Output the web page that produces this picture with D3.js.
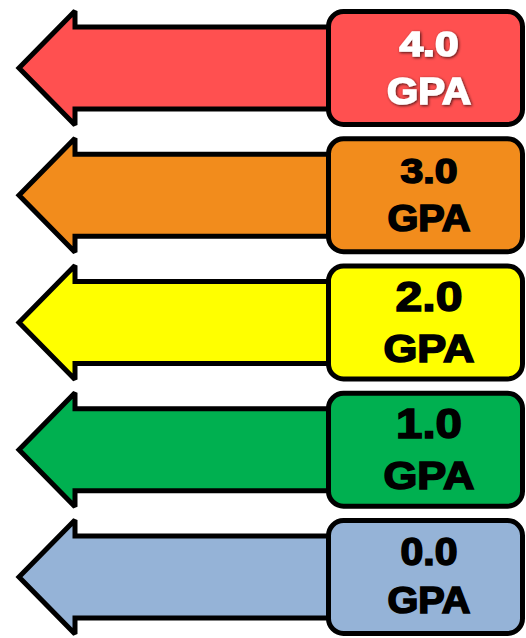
<!DOCTYPE html>
<html>
<head>
<meta charset="utf-8">
<script src="https://cdn.jsdelivr.net/npm/d3@7"></script>
<style>
    html, body { margin: 0; padding: 0; background: #fff; }
    svg { display: block; }
</style>
</head>
<body>
<div id="chart"></div>
<script>
// data
const gpaValues = [4.0, 3.0, 2.0, 1.0, 0.0];
const unitLabel = 'GPA';

// styles per row
const fillColors = ['#ff5050', '#f28c1c', '#ffff00', '#00b050', '#95b3d7'];
const textColors = ['#ffffff', '#000000', '#000000', '#000000', '#000000'];
const numberSizes = [35, 35, 42, 43, 38];
const numberWidths = [59, 57, 67, 66, 57];
const unitSizes = [36, 36, 38, 38, 36];
const unitWidths = [84, 83, 91, 91, 83];

(function() {
    'use strict';

    const width = 526,
        height = 638,
        strokeW = 5;

    const svg = d3.select('#chart').append('svg')
        .attr('width', width)
        .attr('height', height)
        .attr('viewBox', '0 0 ' + width + ' ' + height);

    const defs = svg.append('defs');
    const shadow = defs.append('filter')
        .attr('id', 'shadow')
        .attr('x', '-20%').attr('y', '-20%')
        .attr('width', '140%').attr('height', '140%');
    shadow.append('feDropShadow')
        .attr('dx', 1).attr('dy', 1)
        .attr('stdDeviation', 1.4)
        .attr('flood-color', '#000')
        .attr('flood-opacity', 0.75);

    const y = d3.scalePoint()
        .domain(gpaValues)
        .range([68, 577]);

    // arrow geometry
    const tipX = 19, headX = 75, headH = 57, shaftH = 41, shaftEnd = 345;
    const boxX = 328.5, boxW = 194, boxH = 113;

    const rows = svg.selectAll('.row')
        .data(gpaValues)
        .enter()
        .append('g')
        .attr('class', 'row')
        .attr('transform', (d) => 'translate(0,' + y(d) + ')');

    rows.append('path')
        .attr('d', () => {
            const p = d3.path();
            p.moveTo(tipX, 0);
            p.lineTo(headX, -headH);
            p.lineTo(headX, -shaftH);
            p.lineTo(shaftEnd, -shaftH);
            p.lineTo(shaftEnd, shaftH);
            p.lineTo(headX, shaftH);
            p.lineTo(headX, headH);
            p.closePath();
            return p.toString();
        })
        .attr('fill', (d, i) => fillColors[i])
        .attr('stroke', '#000')
        .attr('stroke-width', strokeW)
        .attr('stroke-linejoin', 'miter')
        .attr('stroke-miterlimit', 2);

    rows.append('rect')
        .attr('x', boxX)
        .attr('y', -boxH / 2)
        .attr('width', boxW)
        .attr('height', boxH)
        .attr('rx', 15)
        .attr('ry', 15)
        .attr('fill', (d, i) => fillColors[i])
        .attr('stroke', '#000')
        .attr('stroke-width', strokeW);

    const textX = 429;

    rows.append('text')
        .attr('x', textX)
        .attr('y', (d, i) => i === 2 || i === 3 ? -12 : -12.5)
        .attr('text-anchor', 'middle')
        .attr('lengthAdjust', 'spacingAndGlyphs')
        .attr('textLength', (d, i) => numberWidths[i])
        .style('font-family', '"Liberation Sans", Arial, sans-serif')
        .style('font-weight', 'bold')
        .style('font-size', (d, i) => numberSizes[i] + 'px')
        .attr('fill', (d, i) => textColors[i])
        .attr('stroke', (d, i) => textColors[i])
        .attr('stroke-width', 1.6)
        .attr('filter', (d, i) => i === 0 ? 'url(#shadow)' : null)
        .text((d) => d.toFixed(1));

    rows.append('text')
        .attr('x', textX)
        .attr('y', (d, i) => i === 2 || i === 3 ? 39 : 36)
        .attr('text-anchor', 'middle')
        .attr('lengthAdjust', 'spacingAndGlyphs')
        .attr('textLength', (d, i) => unitWidths[i])
        .style('font-family', '"Liberation Sans", Arial, sans-serif')
        .style('font-weight', 'bold')
        .style('font-size', (d, i) => unitSizes[i] + 'px')
        .attr('fill', (d, i) => textColors[i])
        .attr('stroke', (d, i) => textColors[i])
        .attr('stroke-width', 1.6)
        .attr('filter', (d, i) => i === 0 ? 'url(#shadow)' : null)
        .text(unitLabel);
})();
</script>
</body>
</html>
